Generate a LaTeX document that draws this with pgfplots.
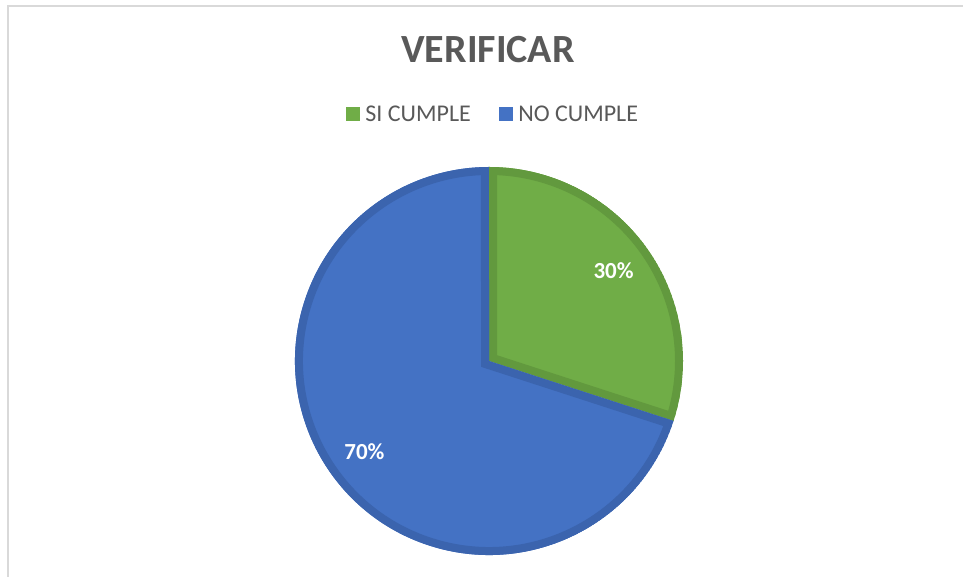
\documentclass[border=0pt]{standalone}
\usepackage{pgfplots}
\usepackage{pgfplotstable}
\pgfplotsset{compat=1.18}
\usetikzlibrary{calc}
\usepackage{fontspec}
\setmainfont{Carlito}
\definecolor{gfill}{HTML}{70AD47}
\definecolor{gedge}{HTML}{62993E}
\definecolor{bfill}{HTML}{4472C4}
\definecolor{bedge}{HTML}{3B64AE}
\definecolor{txt}{HTML}{595959}
\definecolor{frame}{HTML}{D9D9D9}

\pgfplotstableread{
label value
SI 30
NO 70
}\piedata
\pgfplotstablegetelem{0}{value}\of\piedata \let\va\pgfplotsretval
\pgfplotstablegetelem{1}{value}\of\piedata \let\vb\pgfplotsretval
\pgfmathsetmacro{\tot}{\va+\vb}
\pgfmathsetmacro{\aA}{90}
\pgfmathsetmacro{\aB}{90-\va/\tot*360}
\pgfmathsetmacro{\aC}{\aB-\vb/\tot*360}
\pgfmathsetmacro{\mA}{(\aA+\aB)/2}
\pgfmathsetmacro{\mB}{(\aB+\aC)/2}
\pgfmathtruncatemacro{\pAi}{round(\va/\tot*100)}
\pgfmathtruncatemacro{\pBi}{round(\vb/\tot*100)}

\begin{document}
\begin{tikzpicture}
\begin{axis}[
  width=963pt, height=577pt, scale only axis,
  xmin=0, xmax=963, ymin=0, ymax=577,
  hide axis, clip=false,
  legend columns=2,
  legend style={at={(axis cs:493,463)}, anchor=center, draw=none, fill=none,
    font=\fontsize{24}{27}\selectfont, text=txt,
    /tikz/every even column/.append style={column sep=26pt},
    /tikz/every odd column/.append style={column sep=4pt},
    inner sep=0pt, cells={anchor=west}},
  legend image code/.code={\fill[#1] (0pt,-6.5pt) rectangle (13pt,6.5pt);},
]
\coordinate (bl) at (axis cs:0,0);
\coordinate (tr) at (axis cs:963,577);
\draw[frame, line width=1.5pt] (axis cs:8,0) -- (axis cs:8,571) -- (axis cs:963,571);
\node[txt, font=\bfseries\fontsize{40}{44}\selectfont] at (axis cs:488,527) {VERIFICAR};
\addlegendimage{gfill}
\addlegendentry{SI CUMPLE}
\addlegendimage{bfill}
\addlegendentry{NO CUMPLE}
\coordinate (c) at (axis cs:489,216);
% green slice
\begin{scope}
\clip (c) -- ++(\aA:194pt) arc[start angle=\aA, end angle=\aB, radius=194pt] -- cycle;
\fill[gfill] (c) -- ++(\aA:194pt) arc[start angle=\aA, end angle=\aB, radius=194pt] -- cycle;
\draw[gedge, line width=16pt, line join=miter] (c) -- ++(\aA:194pt) arc[start angle=\aA, end angle=\aB, radius=194pt] -- cycle;
\end{scope}
% blue slice
\begin{scope}
\clip (c) -- ++(\aB:194pt) arc[start angle=\aB, end angle=\aC, radius=194pt] -- cycle;
\fill[bfill] (c) -- ++(\aB:194pt) arc[start angle=\aB, end angle=\aC, radius=194pt] -- cycle;
\draw[bedge, line width=16pt, line join=miter] (c) -- ++(\aB:194pt) arc[start angle=\aB, end angle=\aC, radius=194pt] -- cycle;
\end{scope}
\node[white, font=\bfseries\fontsize{23}{26}\selectfont] at ($(c)+(\mA:154pt)$) {\pAi\%};
\node[white, font=\bfseries\fontsize{23}{26}\selectfont] at ($(c)+(\mB:154pt)$) {\pBi\%};
\end{axis}
\pgfresetboundingbox
\path[use as bounding box] (bl) rectangle (tr);
\end{tikzpicture}
\end{document}
